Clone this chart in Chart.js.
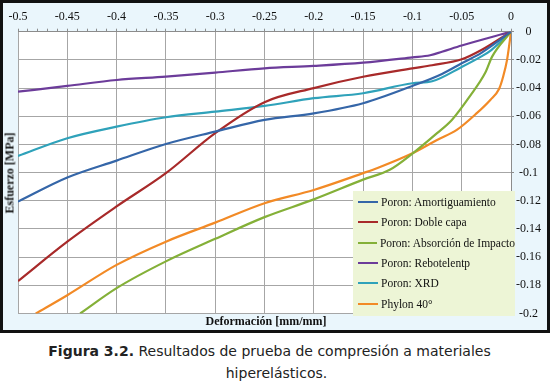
<!DOCTYPE html>
<html>
<head>
<meta charset="utf-8">
<script src="https://cdn.jsdelivr.net/npm/chart.js@4.4.1/dist/chart.umd.min.js"></script>
<style>
  body { margin: 0; width: 553px; height: 386px; background: #fff; position: relative; overflow: hidden; }
  #frame { position: absolute; left: 0; top: 0; width: 544px; height: 327px; border: 3px solid #111; background: #eaf6fc; }
  #chart { position: absolute; left: 0; top: 0; }
  .axis-title { position: absolute; font: bold 12px 'Liberation Serif', serif; color: #111; white-space: nowrap; }
  #ytitle { left: 10px; top: 173px; transform: translate(-50%, -50%) rotate(-90deg); }
  #xtitle { left: 266px; top: 321px; transform: translate(-50%, -50%); }
  #legend { position: absolute; left: 353px; top: 191px; width: 162px; height: 125px; background: #edf5d6; box-sizing: border-box; padding-top: 1px; }
  .item { height: 20.3px; display: flex; align-items: center; font: 11.5px 'Liberation Serif', serif; color: #111; white-space: nowrap; }
  .item span.line { display: inline-block; width: 20px; height: 2px; margin: 0 3px 0 5px; }
  #caption { position: absolute; left: 0; top: 340px; width: 553px; text-align: center; font: 14px 'DejaVu Sans', sans-serif; color: #222; line-height: 22px; }
  #caption .l1 { position: relative; left: -7px; }
</style>
</head>
<body>
<div id="frame">
  <canvas id="chart" width="544" height="327"></canvas>
</div>
<div class="axis-title" id="ytitle">Esfuerzo [MPa]</div>
<div class="axis-title" id="xtitle">Deformación [mm/mm]</div>
<div id="legend"></div>
<div id="caption"><span class="l1"><b>Figura 3.2.</b> Resultados de prueba de compresión a materiales</span><br>hiperelásticos.</div>
<script>
// deformation (x) and stress (y)
const amortX = [-0.5, -0.45, -0.4, -0.35, -0.3, -0.25, -0.2, -0.15, -0.1, -0.07, -0.05, -0.03, 0];
const amortY = [-0.1206, -0.1035, -0.0915, -0.0797, -0.0709, -0.0626, -0.058, -0.0508, -0.0385, -0.030, -0.0224, -0.015, 0];

const dobleX = [-0.5, -0.45, -0.4, -0.35, -0.3, -0.25, -0.2, -0.15, -0.1, -0.08, -0.05, -0.03, 0];
const dobleY = [-0.177, -0.149, -0.124, -0.1004, -0.072, -0.050, -0.040, -0.032, -0.026, -0.0238, -0.0196, -0.013, 0];

const absorcionX = [-0.437, -0.4, -0.35, -0.3, -0.25, -0.2, -0.15, -0.123, -0.1, -0.075, -0.06, -0.042, -0.026, -0.019, 0];
const absorcionY = [-0.2, -0.182, -0.163, -0.147, -0.1316, -0.119, -0.105, -0.098, -0.0865, -0.072, -0.0626, -0.046, -0.029, -0.0175, 0];

const reboteX = [-0.5, -0.45, -0.4, -0.35, -0.3, -0.25, -0.2, -0.15, -0.1, -0.082, -0.07, -0.05, 0];
const reboteY = [-0.0426, -0.0385, -0.0343, -0.0319, -0.029, -0.026, -0.0243, -0.022, -0.0182, -0.0167, -0.0142, -0.0098, 0];

const xrdX = [-0.5, -0.45, -0.4, -0.35, -0.3, -0.25, -0.2, -0.15, -0.1, -0.08, -0.05, -0.03, -0.02, 0];
const xrdY = [-0.0882, -0.0756, -0.0674, -0.0607, -0.0567, -0.0527, -0.0472, -0.0437, -0.0366, -0.0352, -0.025, -0.0175, -0.013, 0];

const phylonX = [-0.482, -0.45, -0.4, -0.35, -0.3, -0.25, -0.2, -0.15, -0.136, -0.1, -0.075, -0.055, -0.035, -0.021, -0.012, -0.008, -0.004, -0.0015, 0];
const phylonY = [-0.2, -0.187, -0.1655, -0.149, -0.1355, -0.1217, -0.1123, -0.1004, -0.0969, -0.0863, -0.0768, -0.0697, -0.058, -0.0484, -0.0405, -0.032, -0.020, -0.008, 0];

const seriesNames = ['Poron: Amortiguamiento', 'Poron: Doble capa', 'Poron: Absorción de Impacto', 'Poron: Rebotelentp', 'Poron: XRD', 'Phylon 40°'];
const seriesColors = ['#3566a8', '#a82a2a', '#84b038', '#6c3c9a', '#2fa2ba', '#f28a26'];

function pts(xs, ys) {
    return xs.map(function(x, i) { return { x: x, y: ys[i] }; });
}

const seriesData = [
    pts(amortX, amortY),
    pts(dobleX, dobleY),
    pts(absorcionX, absorcionY),
    pts(reboteX, reboteY),
    pts(xrdX, xrdY),
    pts(phylonX, phylonY)
];

function fmt(v) {
    return String(Number(v.toFixed(2)));
}
function isMajor(v) {
    return Math.round(v * 100) % 5 === 0;
}

const tickFont = { family: "'Liberation Serif', 'Times New Roman', serif", size: 12 };

const plotBg = {
    id: 'plotBg',
    beforeDraw: function(chart) {
        const a = chart.chartArea;
        chart.ctx.save();
        chart.ctx.fillStyle = '#ffffff';
        chart.ctx.fillRect(a.left, a.top, a.right - a.left, a.bottom - a.top);
        chart.ctx.restore();
    }
};

function build() {
    const chart = new Chart(document.getElementById('chart').getContext('2d'), {
        type: 'line',
        data: {
            datasets: seriesNames.map(function(name, i) {
                return {
                    label: name,
                    data: seriesData[i],
                    borderColor: seriesColors[i],
                    backgroundColor: seriesColors[i],
                    borderWidth: 2.2,
                    pointRadius: 0,
                    cubicInterpolationMode: 'monotone',
                    fill: false
                };
            })
        },
        options: {
            responsive: false,
            animation: false,
            layout: { padding: { left: 15, top: 0, right: 0, bottom: 16.5 } },
            plugins: { legend: { display: false }, tooltip: { enabled: false } },
            scales: {
                x: {
                    type: 'linear',
                    position: 'top',
                    min: -0.5,
                    max: 0,
                    afterFit: function(s) { s.height = 28.7; },
                    ticks: {
                        stepSize: 0.01,
                        autoSkip: false,
                        maxRotation: 0,
                        padding: 5,
                        color: '#111',
                        font: tickFont,
                        callback: function(v) { return isMajor(v) ? fmt(v) : ''; }
                    },
                    grid: {
                        color: function(ctx) { return ctx.tick && isMajor(ctx.tick.value) ? '#a6a6a6' : 'rgba(0,0,0,0)'; },
                        tickColor: '#8c8c8c',
                        tickLength: 3
                    },
                    border: { color: '#8c8c8c' }
                },
                y: {
                    type: 'linear',
                    position: 'right',
                    min: -0.2,
                    max: 0,
                    afterFit: function(s) { s.width = 36; },
                    ticks: {
                        stepSize: 0.02,
                        crossAlign: 'center',
                        padding: 2,
                        color: '#111',
                        font: tickFont,
                        callback: function(v) { return fmt(v); }
                    },
                    grid: { color: '#a6a6a6', tickColor: '#8c8c8c', tickLength: 3 },
                    border: { color: '#8c8c8c' }
                }
            }
        },
        plugins: [plotBg]
    });

    // legend built from the chart's datasets
    const legendBox = document.getElementById('legend');
    chart.data.datasets.forEach(function(ds) {
        const row = document.createElement('div');
        row.className = 'item';
        const line = document.createElement('span');
        line.className = 'line';
        line.style.background = ds.borderColor;
        row.appendChild(line);
        row.appendChild(document.createTextNode(ds.label));
        legendBox.appendChild(row);
    });
}

// canvas text needs the serif font loaded first
if (document.fonts && document.fonts.load) {
    document.fonts.load("12px 'Liberation Serif'").then(build, build);
} else {
    build();
}
</script>
</body>
</html>
